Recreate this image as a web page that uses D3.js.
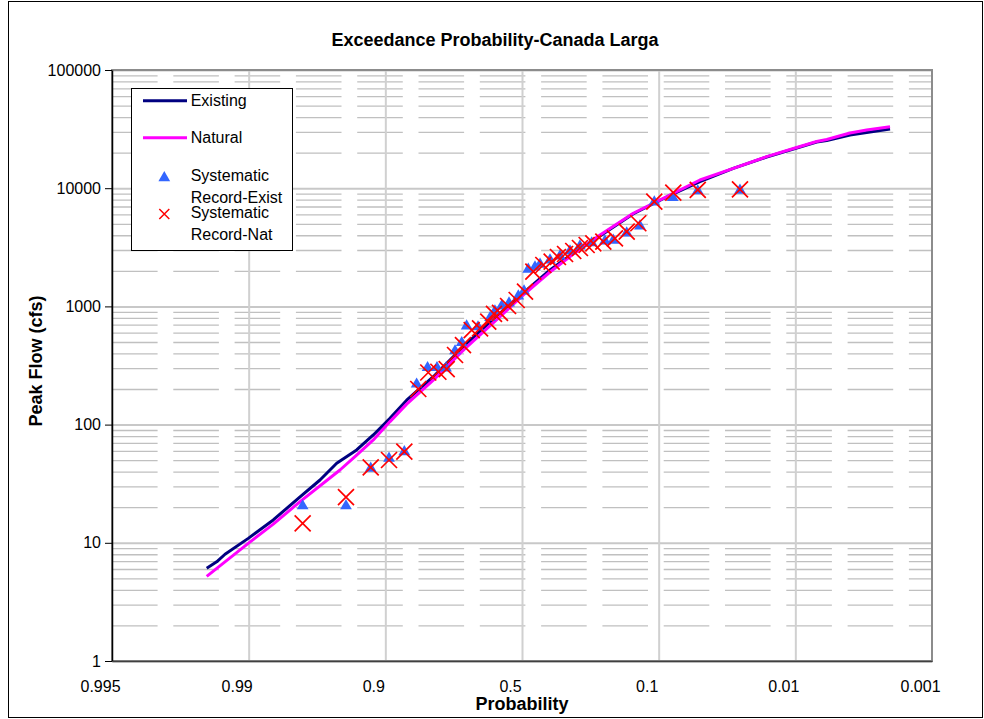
<!DOCTYPE html>
<html>
<head>
<meta charset="utf-8">
<script src="https://cdn.jsdelivr.net/npm/d3@7"></script>
<style>
  html, body { margin: 0; padding: 0; background: #fff; }
  svg { display: block; font-family: "Liberation Sans", Arial, sans-serif; }
</style>
</head>
<body>
<svg id="chart" width="984" height="719"></svg>
<script>
// Exceedance probability chart: peak flow against the standard normal variate,
// with the axis labelled in exceedance probability.

// Frequency curves (standard normal variate, peak flow in cfs)
const existingZ    = [2.307, 2.234, 2.173, 2.003, 1.820, 1.624, 1.478, 1.356, 1.210, 1.088, 0.966, 0.844, 0.649, 0.405, 0.161, -0.034, -0.205, -0.375, -0.571, -0.812, -1.059, -1.302, -1.546, -1.790, -1.998, -2.156, -2.230, -2.400, -2.522, -2.693];
const existingFlow = [6.1, 6.9, 8.0, 10.9, 15.6, 24.5, 34.0, 47.1, 61.0, 81.7, 113, 161, 254, 487, 875, 1376, 2032, 2813, 3943, 6050, 8430, 11350, 14730, 18360, 21670, 24600, 25330, 28200, 29600, 31700];

const naturalZ     = [2.307, 2.063, 2.003, 1.820, 1.624, 1.332, 1.210, 1.088, 0.966, 0.844, 0.649, 0.405, 0.161, -0.034, -0.205, -0.375, -0.571, -0.814, -1.059, -1.302, -1.546, -1.790, -1.998, -2.156, -2.230, -2.400, -2.522, -2.693];
const naturalFlow  = [5.2, 8.7, 9.9, 14.4, 22.3, 41.3, 55.3, 74.1, 106, 149, 238, 453, 818, 1324, 1954, 2775, 4018, 6136, 8472, 11730, 14730, 18480, 21880, 24830, 25830, 29300, 31060, 33140];

// Systematic record, existing conditions
const sysExistZ    = [1.605, 1.288, 1.107, 0.973, 0.861, 0.771, 0.691, 0.622, 0.556, 0.490, 0.441, 0.405, 0.322, 0.234, 0.198, 0.149, 0.095, 0.027, -0.015, -0.046, -0.095, -0.132, -0.205, -0.278, -0.351, -0.424, -0.510, -0.607, -0.668, -0.766, -0.863, -0.968, -1.103, -1.286, -1.595];
const sysExistFlow = [20.9, 20.9, 43.5, 52.9, 60.1, 224, 309, 309, 307, 428, 503, 696, 683, 818, 932, 1028, 1089, 1248, 1376, 2100, 2197, 2316, 2518, 2722, 3000, 3306, 3508, 3646, 3700, 4260, 4880, 7795, 8470, 9660, 9790];

// Systematic record, natural conditions
const sysNatZ      = [1.605, 1.288, 1.107, 0.973, 0.861, 0.759, 0.686, 0.612, 0.551, 0.490, 0.432, 0.368, 0.307, 0.247, 0.205, 0.161, 0.102, 0.039, -0.022, -0.083, -0.156, -0.217, -0.263, -0.315, -0.375, -0.424, -0.473, -0.522, -0.595, -0.680, -0.766, -0.851, -0.968, -1.107, -1.286, -1.595];
const sysNatFlow   = [14.6, 24.3, 43.5, 50.2, 59.0, 200, 276, 280, 295, 388, 471, 631, 653, 743, 863, 880, 1008, 1133, 1332, 1966, 2240, 2390, 2618, 2775, 2943, 3120, 3306, 3420, 3527, 3768, 4285, 5050, 7690, 9160, 9660, 9790];

// Axis ticks
const zTicks     = [3, 2, 1, 0, -1, -2, -3];
const probLabels = ["0.995", "0.99", "0.9", "0.5", "0.1", "0.01", "0.001"];
const flowMajor  = [1, 10, 100, 1000, 10000, 100000];

const svg = d3.select("#chart");
const plot = { left: 112, right: 932, top: 70, bottom: 661 };
const plotW = plot.right - plot.left;

const x = d3.scaleLinear().domain([3, -3]).range([plot.left, plot.right]);
const y = d3.scaleLog().domain([1, 100000]).range([plot.bottom, plot.top]);

const flowMinor = [];
for (let k = 0; k < 5; k++) for (let m = 2; m <= 9; m++) flowMinor.push(m * Math.pow(10, k));

// Outer chart frame
svg.append("rect")
  .attr("x", 8.5).attr("y", 1.5).attr("width", 974).attr("height", 716)
  .attr("fill", "#fff").attr("stroke", "#000").attr("stroke-width", 1);

// Minor horizontal gridlines (dashed)
svg.append("g")
  .attr("transform", `translate(${plot.left},0)`)
  .call(d3.axisLeft(y).tickValues(flowMinor).tickSize(-plotW).tickFormat(""))
  .call(g => g.select(".domain").remove())
  .call(g => g.selectAll(".tick line")
    .attr("stroke", "#c0c0c0").attr("stroke-width", 1.3)
    .attr("stroke-dasharray", "45.6,15.7"));

// Major horizontal gridlines
svg.append("g")
  .attr("transform", `translate(${plot.left},0)`)
  .call(d3.axisLeft(y).tickValues(flowMajor).tickSize(-plotW).tickFormat(""))
  .call(g => g.select(".domain").remove())
  .call(g => g.selectAll(".tick line").attr("stroke", "#c8c8c8").attr("stroke-width", 2));

// Vertical gridlines
svg.append("g")
  .attr("transform", `translate(0,${plot.bottom})`)
  .call(d3.axisBottom(x).tickValues(zTicks.slice(1, -1)).tickSize(-(plot.bottom - plot.top)).tickFormat(""))
  .call(g => g.select(".domain").remove())
  .call(g => g.selectAll(".tick line").attr("stroke", "#d0d0d0").attr("stroke-width", 2));

// Plot area border
svg.append("rect")
  .attr("x", plot.left).attr("y", plot.top)
  .attr("width", plotW).attr("height", plot.bottom - plot.top)
  .attr("fill", "none").attr("stroke", "#8c8c8c").attr("stroke-width", 2);

// Y axis
svg.append("g")
  .attr("transform", `translate(${plot.left},0)`)
  .call(d3.axisLeft(y).tickValues(flowMajor).tickSize(7).tickSizeOuter(0).tickPadding(4).tickFormat(d3.format("d")))
  .call(g => g.select(".domain").attr("stroke", "#000").attr("stroke-width", 1.5))
  .call(g => g.selectAll(".tick line").attr("stroke", "#000"))
  .call(g => g.selectAll("text").attr("font-size", 16).attr("fill", "#000")
    .attr("font-family", "'Liberation Sans', Arial, sans-serif"));

// X axis with probability labels
svg.append("g")
  .attr("transform", `translate(0,${plot.bottom})`)
  .call(d3.axisBottom(x).tickValues(zTicks).tickSize(0).tickSizeOuter(0)
    .tickFormat((d, i) => probLabels[i]))
  .call(g => g.select(".domain").attr("stroke", "#404040").attr("stroke-width", 1.5))
  .call(g => g.selectAll("text").attr("font-size", 16).attr("fill", "#000")
    .attr("font-family", "'Liberation Sans', Arial, sans-serif")
    .attr("y", 31).attr("dy", 0).attr("dx", -12));

// Frequency curves
const line = d3.line().x(d => x(d[0])).y(d => y(d[1]));
svg.append("path")
  .datum(existingZ.map((z, i) => [z, existingFlow[i]]))
  .attr("d", line).attr("fill", "none")
  .attr("stroke", "#000080").attr("stroke-width", 3).attr("stroke-linejoin", "round");
svg.append("path")
  .datum(naturalZ.map((z, i) => [z, naturalFlow[i]]))
  .attr("d", line).attr("fill", "none")
  .attr("stroke", "#ff00ff").attr("stroke-width", 3).attr("stroke-linejoin", "round");

// Markers
const tri = d3.symbol().type(d3.symbolTriangle).size(60);
function drawTriangles(g, pts) {
  g.selectAll("path.tri").data(pts).join("path")
    .attr("class", "tri")
    .attr("transform", d => `translate(${x(d[0])},${y(d[1]) + 1})`)
    .attr("d", tri).attr("fill", "#3366ff");
}
function crossPath(s) {
  return `M${-s},${-s}L${s},${s}M${-s},${s}L${s},${-s}`;
}
drawTriangles(svg.append("g"), sysExistZ.map((z, i) => [z, sysExistFlow[i]]));
svg.append("g").selectAll("path").data(sysNatZ.map((z, i) => [z, sysNatFlow[i]])).join("path")
  .attr("transform", d => `translate(${x(d[0])},${y(d[1])})`)
  .attr("d", crossPath(8)).attr("fill", "none")
  .attr("stroke", "#ff0000").attr("stroke-width", 1.7);

// Legend
const legend = svg.append("g");
legend.append("rect").attr("x", 131.5).attr("y", 88.5).attr("width", 161).attr("height", 162)
  .attr("fill", "#fff").attr("stroke", "#000").attr("stroke-width", 1);
legend.append("line").attr("x1", 143).attr("x2", 187).attr("y1", 100.7).attr("y2", 100.7)
  .attr("stroke", "#000080").attr("stroke-width", 3);
legend.append("line").attr("x1", 143).attr("x2", 187).attr("y1", 137.7).attr("y2", 137.7)
  .attr("stroke", "#ff00ff").attr("stroke-width", 3);
legend.append("path").attr("transform", "translate(164.3,177.8)").attr("d", tri).attr("fill", "#3366ff");
legend.append("path").attr("transform", "translate(164.3,214)").attr("d", crossPath(5))
  .attr("fill", "none").attr("stroke", "#ff0000").attr("stroke-width", 1.5);
const legendText = [
  ["Existing", 106], ["Natural", 142.7], ["Systematic", 180.7], ["Record-Exist", 202.7],
  ["Systematic", 218.3], ["Record-Nat", 240]
];
legend.selectAll("text.lt").data(legendText).join("text")
  .attr("class", "lt").attr("x", 190.7).attr("y", d => d[1])
  .attr("font-size", 16).attr("fill", "#000").text(d => d[0]);

// Titles
svg.append("text").attr("x", 495).attr("y", 46).attr("text-anchor", "middle")
  .attr("font-size", 18).attr("font-weight", "bold").text("Exceedance Probability-Canada Larga");
svg.append("text").attr("x", 522).attr("y", 710).attr("text-anchor", "middle")
  .attr("font-size", 18).attr("font-weight", "bold").text("Probability");
svg.append("text").attr("transform", "translate(42,361) rotate(-90)").attr("text-anchor", "middle")
  .attr("font-size", 18).attr("font-weight", "bold").text("Peak Flow (cfs)");
</script>
</body>
</html>
